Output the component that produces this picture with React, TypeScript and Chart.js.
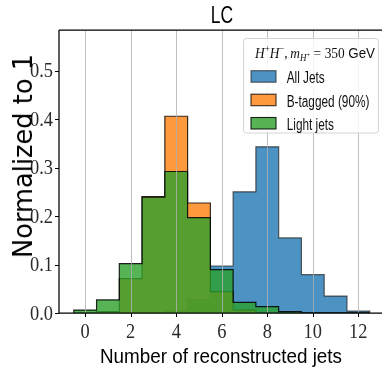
import { useEffect, useRef } from "react";
import { Chart, registerables } from "chart.js";

Chart.register(...registerables);

// Histogram bins: jet multiplicity 0..12 (unit-width bins centred on integers)
const binCenters = [0, 1, 2, 3, 4, 5, 6, 7, 8, 9, 10, 11, 12];
const allJets = [0, 0, 0, 0, 0.004, 0.027, 0.097, 0.25, 0.343, 0.155, 0.079, 0.035, 0.004];
const bTagged = [0, 0.003, 0.071, 0.24, 0.406, 0.227, 0.044, 0.006, 0, 0, 0, 0, 0];
const lightJets = [0.006, 0.027, 0.102, 0.239, 0.292, 0.197, 0.0895, 0.022, 0.013, 0.003, 0, 0, 0];

const seriesNames = ["All Jets", "B-tagged (90%)", "Light jets"];
const seriesFill = ["rgba(31,119,180,0.8)", "rgba(255,127,14,0.8)", "rgba(44,160,44,0.8)"];
const seriesEdge = ["rgba(40,40,40,0.75)", "rgba(0,0,0,0.8)", "rgba(0,0,0,0.85)"];

const xTickValues = [0, 2, 4, 6, 8, 10, 12];
const xTickLabels = ["0", "2", "4", "6", "8", "10", "12"];
const yTickValues = [0, 0.1, 0.2, 0.3, 0.4, 0.5];
const yTickLabels = ["0.0", "0.1", "0.2", "0.3", "0.4", "0.5"];

const chartTitle = "LC";
const xTitle = "Number of reconstructed jets";
const yTitle = "Normalized to 1";

const SANS = "'Liberation Sans', 'DejaVu Sans', sans-serif";
const SERIF = "'Liberation Serif', 'DejaVu Serif', serif";

// Outline of a step-filled histogram: along the bin edges, closed on the baseline
function stepOutline(values: number[]) {
  const pts: { x: number; y: number }[] = [{ x: binCenters[0] - 0.5, y: 0 }];
  values.forEach((v, i) => {
    pts.push({ x: binCenters[i] - 0.5, y: v });
    pts.push({ x: binCenters[i] + 0.5, y: v });
  });
  pts.push({ x: binCenters[binCenters.length - 1] + 0.5, y: 0 });
  return pts;
}

function measure(ctx: CanvasRenderingContext2D, text: string, font: string) {
  ctx.save();
  ctx.font = font;
  const w = ctx.measureText(text).width;
  ctx.restore();
  return w;
}

// Horizontal text, squeezed along its run by sx
function drawText(
  ctx: CanvasRenderingContext2D,
  text: string,
  x: number,
  y: number,
  font: string,
  sx: number,
  align: "left" | "center" | "right"
) {
  const w = measure(ctx, text, font) * sx;
  const x0 = align === "center" ? x - w / 2 : align === "right" ? x - w : x;
  ctx.save();
  ctx.font = font;
  ctx.textAlign = "left";
  ctx.textBaseline = "alphabetic";
  ctx.translate(x0, y);
  ctx.scale(sx, 1);
  ctx.fillText(text, 0, 0);
  ctx.restore();
}

const decorations = {
  id: "decorations",
  afterDraw(chart: any) {
    const ctx: CanvasRenderingContext2D = chart.ctx;
    const area = chart.chartArea;
    const xs = chart.scales.x;
    const ys = chart.scales.y;

    ctx.save();
    // vertical grid lines above the histograms
    ctx.strokeStyle = "rgba(176,176,176,0.8)";
    ctx.lineWidth = 1;
    xTickValues.forEach((v) => {
      const px = Math.round(xs.getPixelForValue(v)) + 0.5;
      ctx.beginPath();
      ctx.moveTo(px, area.top);
      ctx.lineTo(px, area.bottom);
      ctx.stroke();
    });

    // spines
    ctx.strokeStyle = "#000";
    ctx.lineWidth = 1.25;
    ctx.beginPath();
    ctx.moveTo(area.left, area.top);
    ctx.lineTo(area.right, area.top);
    ctx.moveTo(area.left, area.top);
    ctx.lineTo(area.left, area.bottom);
    ctx.lineTo(area.right, area.bottom);
    ctx.stroke();

    // tick marks
    ctx.lineWidth = 1;
    xTickValues.forEach((v) => {
      const px = Math.round(xs.getPixelForValue(v)) + 0.5;
      ctx.beginPath();
      ctx.moveTo(px, area.bottom);
      ctx.lineTo(px, area.bottom + 4);
      ctx.stroke();
    });
    yTickValues.forEach((v) => {
      const py = Math.round(ys.getPixelForValue(v)) + 0.5;
      ctx.beginPath();
      ctx.moveTo(area.left - 4, py);
      ctx.lineTo(area.left, py);
      ctx.stroke();
    });

    // tick labels
    ctx.fillStyle = "#2a2a2a";
    const tickFont = `21px ${SERIF}`;
    const tickSx = 23 / measure(ctx, "0.5", tickFont);
    xTickValues.forEach((v, i) => {
      drawText(ctx, xTickLabels[i], xs.getPixelForValue(v), area.bottom + 25, tickFont, tickSx, "center");
    });
    yTickValues.forEach((v, i) => {
      drawText(ctx, yTickLabels[i], area.left - 6, ys.getPixelForValue(v) + 6.5, tickFont, tickSx, "right");
    });

    // chart title and x-axis title
    ctx.fillStyle = "#000";
    const titleFont = `23px ${SANS}`;
    drawText(ctx, chartTitle, 222, 22.7, titleFont, 22.3 / measure(ctx, chartTitle, titleFont), "center");
    const xFont = `21px ${SANS}`;
    drawText(ctx, xTitle, 221, 363, xFont, 242 / measure(ctx, xTitle, xFont), "center");

    // legend frame
    const lx = 243.5, ly = 38.5, lw = 135, lh = 94.5, r = 3;
    ctx.beginPath();
    ctx.moveTo(lx + r, ly);
    ctx.lineTo(lx + lw - r, ly);
    ctx.arcTo(lx + lw, ly, lx + lw, ly + r, r);
    ctx.lineTo(lx + lw, ly + lh - r);
    ctx.arcTo(lx + lw, ly + lh, lx + lw - r, ly + lh, r);
    ctx.lineTo(lx + r, ly + lh);
    ctx.arcTo(lx, ly + lh, lx, ly + lh - r, r);
    ctx.lineTo(lx, ly + r);
    ctx.arcTo(lx, ly, lx + r, ly, r);
    ctx.closePath();
    ctx.fillStyle = "rgba(255,255,255,0.85)";
    ctx.fill();
    ctx.strokeStyle = "#d4d4d4";
    ctx.lineWidth = 1;
    ctx.stroke();

    // legend title: H+H-, m_{H+} = 350 GeV
    const it = (s: number) => `italic ${s}px ${SERIF}`;
    const rm = (s: number) => `${s}px ${SERIF}`;
    const parts: { t: string; f: string; dy: number; gap?: number }[] = [
      { t: "H", f: it(15), dy: 0 },
      { t: "+", f: rm(10), dy: -6 },
      { t: "H", f: it(15), dy: 0 },
      { t: "\u2212", f: rm(10), dy: -6 },
      { t: ",", f: rm(15), dy: 0, gap: 3 },
      { t: "m", f: it(15), dy: 0 },
      { t: "H", f: it(10), dy: 3 },
      { t: "+", f: rm(7), dy: -1, gap: 4 },
      { t: "=", f: rm(15), dy: 0, gap: 4 },
      { t: "350", f: rm(15), dy: 0, gap: 4 },
      { t: "GeV", f: `15px ${SANS}`, dy: 0 },
    ];
    const widths = parts.map((p) => measure(ctx, p.t, p.f));
    const total = parts.reduce((acc, p, i) => acc + widths[i] + (p.gap || 0), 0);
    const titleSx = 120 / total;
    ctx.fillStyle = "#111";
    let cx = 255;
    parts.forEach((p, i) => {
      drawText(ctx, p.t, cx, 58.3 + p.dy, p.f, titleSx, "left");
      cx += (widths[i] + (p.gap || 0)) * titleSx;
    });

    // legend entries
    const entryFont = `16px ${SANS}`;
    const entrySx = 82.7 / measure(ctx, seriesNames[1], entryFont);
    const rowBase = [83.3, 106.5, 129.5];
    const patchTop = [70.7, 94.2, 117.5];
    seriesNames.forEach((name, i) => {
      ctx.fillStyle = "#fff";
      ctx.fillRect(251, patchTop[i], 25, 11.5);
      ctx.fillStyle = seriesFill[i];
      ctx.fillRect(251, patchTop[i], 25, 11.5);
      ctx.strokeStyle = seriesEdge[i];
      ctx.lineWidth = 1.1;
      ctx.strokeRect(251, patchTop[i], 25, 11.5);
      ctx.fillStyle = "#111";
      drawText(ctx, name, 286.7, rowBase[i], entryFont, entrySx, "left");
    });
    ctx.restore();
  },
};

export default function App() {
  const canvasRef = useRef<HTMLCanvasElement>(null);

  useEffect(() => {
    if (!canvasRef.current) return;
    const seriesValues = [allJets, bTagged, lightJets];
    const chart = new Chart(canvasRef.current, {
      type: "line",
      data: {
        datasets: seriesValues.map((vals, i) => ({
          label: seriesNames[i],
          data: stepOutline(vals),
          backgroundColor: seriesFill[i],
          borderColor: seriesEdge[i],
          borderWidth: 1.2,
          fill: "origin",
          pointRadius: 0,
          tension: 0,
          // later series sit on top
          order: seriesValues.length - i,
        })),
      },
      options: {
        animation: false,
        responsive: false,
        maintainAspectRatio: false,
        events: [],
        layout: { padding: { top: 30, right: 1.5, left: 0, bottom: 0 } },
        plugins: {
          legend: { display: false },
          title: { display: false },
          tooltip: { enabled: false },
        },
        scales: {
          x: {
            type: "linear",
            min: -1.15,
            max: 13.15,
            grid: { display: false },
            border: { display: false },
            ticks: { display: false },
            afterFit: (s: any) => {
              s.height = 62;
            },
          },
          y: {
            type: "linear",
            min: 0,
            max: 0.584,
            grid: { display: false },
            border: { display: false },
            ticks: { display: false },
            afterFit: (s: any) => {
              s.width = 59;
            },
          },
        },
      },
      plugins: [decorations],
    } as any);
    return () => chart.destroy();
  }, []);

  return (
    <div
      style={{
        position: "fixed",
        left: 0,
        top: 0,
        width: 382,
        height: 375,
        overflow: "hidden",
        background: "#fff",
      }}
    >
      <canvas ref={canvasRef} width={386} height={375} style={{ display: "block" }} />
      {/* y-axis title, reading bottom-to-top */}
      <div
        style={{
          position: "absolute",
          left: 22.5,
          top: 155.5,
          transform: "translate(-50%, -50%) rotate(-90deg)",
          font: "25.7px 'DejaVu Sans', sans-serif",
          lineHeight: "26px",
          whiteSpace: "nowrap",
          color: "#000",
        }}
      >
        {yTitle}
      </div>
    </div>
  );
}
